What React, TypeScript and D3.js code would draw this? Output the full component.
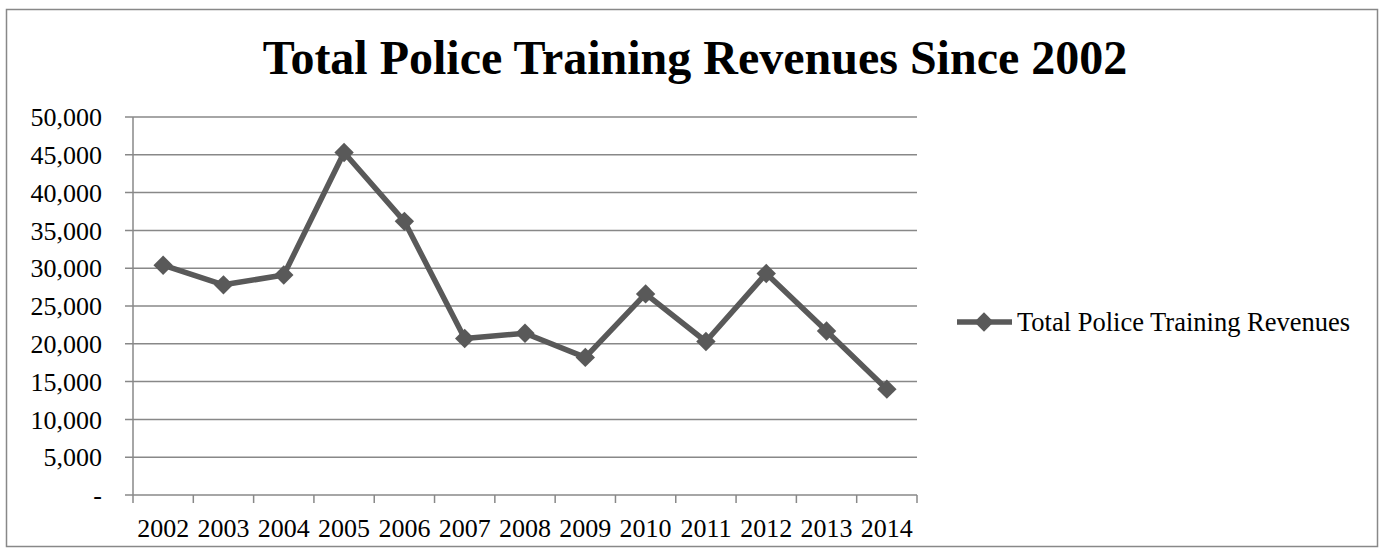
import React from "react";
import * as d3 from "d3";

const years = ["2002","2003","2004","2005","2006","2007","2008","2009","2010","2011","2012","2013","2014"];
const revenues = [30400, 27800, 29100, 45300, 36200, 20700, 21400, 18200, 26600, 20300, 29300, 21700, 14000];
const yTicks = [0, 5000, 10000, 15000, 20000, 25000, 30000, 35000, 40000, 45000, 50000];
const seriesName = "Total Police Training Revenues";
const title = "Total Police Training Revenues Since 2002";

const W = 1385, H = 558;
const plot = { left: 133, right: 917, top: 117, bottom: 495 };
const lineColor = "#595959";
const gridColor = "#888888";
const font = "'Liberation Serif', 'Times New Roman', serif";

export default function App() {
  const x = d3.scaleBand<string>().domain(years).range([plot.left, plot.right]).padding(0);
  const y = d3.scaleLinear().domain([0, 50000]).range([plot.bottom, plot.top]);
  const fmt = d3.format(",");
  const line = d3.line<number>()
    .x((_, i) => (x(years[i]) as number) + x.bandwidth() / 2)
    .y((d) => y(d));
  const diamond = d3.symbol().type(d3.symbolDiamond2).size(240)() as string;
  const tickEdges = years.map((yr) => x(yr) as number).concat([plot.right]);

  return (
    <svg width={W} height={H} style={{ position: "absolute", left: 0, top: 0, background: "#fff" }}>
      <rect x={6.5} y={9.5} width={1371} height={537} fill="#fff" stroke={gridColor} strokeWidth={1.5} />
      <text x={695} y={74} textAnchor="middle" fontFamily={font} fontWeight="bold" fontSize={48} fill="#000">{title}</text>
      {yTicks.map((t) => (
        <g key={t}>
          <line x1={plot.left - 8} x2={plot.right} y1={y(t)} y2={y(t)} stroke={gridColor} strokeWidth={1.5} />
          <text x={102} y={y(t)} dy="0.35em" textAnchor="end" fontFamily={font} fontSize={26} fill="#000">
            {t === 0 ? "-" : fmt(t)}
          </text>
        </g>
      ))}
      <line x1={plot.left} x2={plot.left} y1={plot.top} y2={plot.bottom} stroke={gridColor} strokeWidth={1.5} />
      {tickEdges.map((tx, i) => (
        <line key={i} x1={tx} x2={tx} y1={plot.bottom} y2={plot.bottom + 8} stroke={gridColor} strokeWidth={1.5} />
      ))}
      {years.map((yr) => (
        <text key={yr} x={(x(yr) as number) + x.bandwidth() / 2} y={537} textAnchor="middle" fontFamily={font} fontSize={26} fill="#000">{yr}</text>
      ))}
      <path d={line(revenues) as string} fill="none" stroke={lineColor} strokeWidth={5.5} strokeLinejoin="round" />
      {revenues.map((v, i) => (
        <path key={i} d={diamond} transform={`translate(${(x(years[i]) as number) + x.bandwidth() / 2},${y(v)})`} fill={lineColor} />
      ))}
      <g>
        <line x1={957} x2={1012} y1={322} y2={322} stroke={lineColor} strokeWidth={5.5} />
        <path d={diamond} transform="translate(984,322)" fill={lineColor} />
        <text x={1017} y={322} dy="0.35em" fontFamily={font} fontSize={26.5} fill="#000">{seriesName}</text>
      </g>
    </svg>
  );
}
